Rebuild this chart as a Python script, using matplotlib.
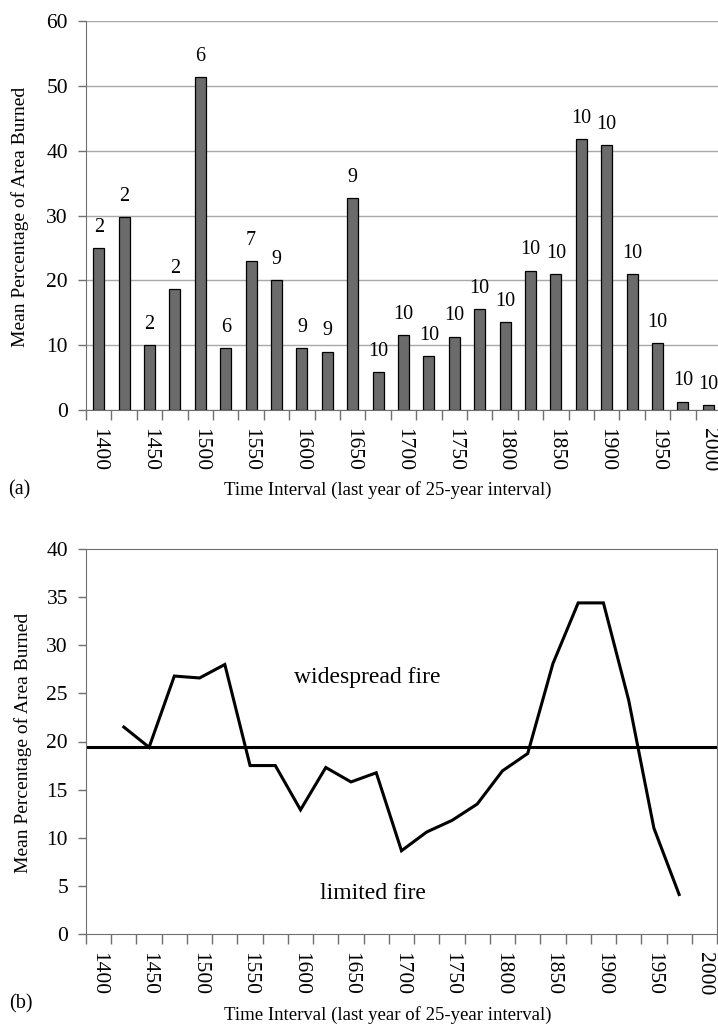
import matplotlib
matplotlib.use("Agg")
import matplotlib.pyplot as plt
import numpy as np

# ---------------- data ----------------
years = [1400, 1425, 1450, 1475, 1500, 1525, 1550, 1575, 1600, 1625, 1650, 1675,
         1700, 1725, 1750, 1775, 1800, 1825, 1850, 1875, 1900, 1925, 1950, 1975, 2000]
pct_burned = [25.0, 29.7, 10.0, 18.6, 51.4, 9.5, 23.0, 20.0, 9.5, 9.0, 32.7, 5.8,
              11.6, 8.3, 11.3, 15.6, 13.5, 21.5, 21.0, 41.8, 40.9, 21.0, 10.3, 1.3, 0.7]
n_sites = [2, 2, 2, 2, 6, 6, 7, 9, 9, 9, 9, 10,
           10, 10, 10, 10, 10, 10, 10, 10, 10, 10, 10, 10, 10]
running_mean = [np.nan, 21.5, 19.4, 26.8, 26.6, 28.0, 17.5, 17.5, 12.9, 17.3, 15.8, 16.75,
                8.65, 10.6, 11.8, 13.5, 16.95, 18.75, 28.1, 34.4, 34.4, 24.3, 11.0, 4.1, np.nan]
threshold = 19.4
tick_years = [1400, 1450, 1500, 1550, 1600, 1650, 1700, 1750, 1800, 1850, 1900, 1950, 2000]
xlabel_text = "Time Interval (last year of 25-year interval)"
ylabel_text = "Mean Percentage of Area Burned"

# ---------------- style ----------------
plt.rcParams['font.family'] = ['Liberation Serif', 'DejaVu Serif']
W, H = 718, 1034
fig = plt.figure(figsize=(W / 100, H / 100), dpi=100)

def fx(px):
    return px / W

def fy(py):
    return 1 - py / H

x = np.arange(len(years))
label_idx = [years.index(y) for y in tick_years]
bounds = np.arange(len(years) + 1) - 0.5
spine_col = '#707070'

def style_xaxis(ax):
    ax.set_xlim(-0.5, len(years) - 0.5)
    ax.set_xticks(bounds)
    ax.set_xticklabels([])
    ax.set_xticks(label_idx, minor=True)
    ax.set_xticklabels([str(t) for t in tick_years], minor=True, rotation=270, fontsize=15.5)
    ax.tick_params(axis='x', which='major', length=7, width=1, color=spine_col, direction='out')
    ax.tick_params(axis='x', which='minor', length=0, pad=13)
    ax.tick_params(axis='y', length=6, width=1, color=spine_col, direction='out',
                   labelsize=15.5, pad=7)

# ---------------- top panel (a) ----------------
ax1 = fig.add_axes([fx(86), fy(410), fx(721 - 86), (410 - 21) / H])
ax1.bar(x, pct_burned, width=0.43, color='#6b6b6b', edgecolor='black', linewidth=0.9, zorder=3)
for xi, v, n in zip(x, pct_burned, n_sites):
    ax1.text(xi, v + 3.2, str(n), ha='center', va='center', fontsize=14.5, clip_on=False)
ax1.set_ylim(0, 60)
ax1.set_yticks(range(0, 61, 10))
ax1.yaxis.grid(True, color='#a8a8a8', linewidth=1)
ax1.set_axisbelow(True)
for s in ['top', 'right']:
    ax1.spines[s].set_visible(False)
for s in ['left', 'bottom']:
    ax1.spines[s].set_color(spine_col)
style_xaxis(ax1)

fig.text(fx(20), fy(217), ylabel_text, rotation=90, ha='center', va='center', fontsize=14)
fig.text(fx(388), fy(490), xlabel_text, ha='center', va='center', fontsize=13.5)
fig.text(fx(8), fy(490), "(a)", ha='left', va='center', fontsize=14.5)

# ---------------- bottom panel (b) ----------------
ax2 = fig.add_axes([fx(86), fy(934), fx(717 - 86), (934 - 549) / H])
ax2.axhline(threshold, color='black', linewidth=2.2, zorder=2)
ax2.plot(x, running_mean, color='black', linewidth=2.2, zorder=3, solid_joinstyle='miter')
ax2.set_ylim(0, 40)
ax2.set_yticks(range(0, 41, 5))
for s in ax2.spines.values():
    s.set_color(spine_col)
style_xaxis(ax2)
ax2.text(0.446, 26.6, "widespread fire", transform=ax2.get_yaxis_transform(),
         ha='center', va='center', fontsize=17)
ax2.text(0.454, 4.25, "limited fire", transform=ax2.get_yaxis_transform(),
         ha='center', va='center', fontsize=17)

fig.text(fx(23), fy(743), ylabel_text, rotation=90, ha='center', va='center', fontsize=14)
fig.text(fx(388), fy(1015), xlabel_text, ha='center', va='center', fontsize=13.5)
fig.text(fx(9), fy(1004), "(b)", ha='left', va='center', fontsize=14.5)

fig.savefig("out.png", dpi=100)
